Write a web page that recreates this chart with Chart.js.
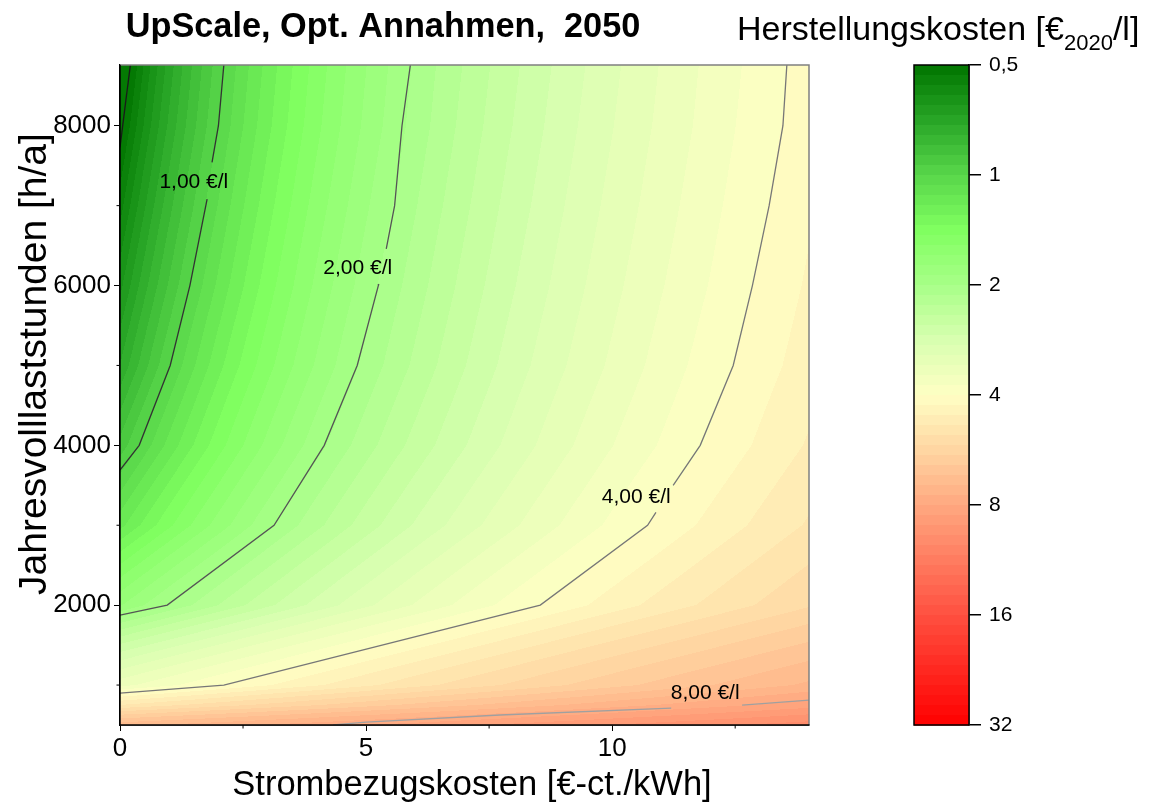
<!DOCTYPE html>
<html>
<head>
<meta charset="utf-8">
<script src="https://cdn.jsdelivr.net/npm/chart.js@4.4.0/dist/chart.umd.min.js"></script>
<style>
  html, body { margin: 0; padding: 0; background: #fff; }
  #wrap { position: relative; width: 1154px; height: 807px; }
  #main { position: absolute; left: 0; top: 0; }
  #bar { position: absolute; left: 720px; top: 0; }
</style>
</head>
<body>
<div id="wrap">
  <canvas id="main" width="820" height="807"></canvas>
  <canvas id="bar" width="434" height="807"></canvas>
</div>
<script>
// grid of production cost (€/l)
const priceCols = [0, 2, 4, 6, 8, 10, 12, 14];   // €-ct./kWh
const hourRows = [500, 750, 1000, 2000, 3000, 4000, 5000, 6000, 7000, 8000, 8760]; // h/a
const costGrid = [
  [6.90, 7.34, 7.78, 8.22, 8.66, 9.10, 9.54, 9.98],  // 500
  [4.84, 5.33, 5.82, 6.32, 6.81, 7.30, 7.79, 8.28],  // 750
  [3.44, 3.97, 4.50, 5.03, 5.55, 6.08, 6.61, 7.14],  // 1000
  [1.75, 2.27, 2.80, 3.33, 3.86, 4.39, 4.91, 5.44],  // 2000
  [1.18, 1.70, 2.23, 2.76, 3.28, 3.81, 4.34, 4.87],  // 3000
  [0.90, 1.42, 1.95, 2.47, 2.99, 3.52, 4.04, 4.57],  // 4000
  [0.73, 1.26, 1.78, 2.30, 2.83, 3.35, 3.88, 4.40],  // 5000
  [0.63, 1.15, 1.68, 2.20, 2.73, 3.25, 3.77, 4.30],  // 6000
  [0.55, 1.07, 1.60, 2.12, 2.65, 3.17, 3.69, 4.22],  // 7000
  [0.48, 1.00, 1.53, 2.05, 2.58, 3.10, 3.62, 4.15],  // 8000
  [0.44, 0.97, 1.50, 2.02, 2.54, 3.06, 3.59, 4.11]   // 8760
];

// contour lines (y null = gap for the label)
const line050 = [{x: 0.21, y: 8760}, {x: 0, y: 7730}];
const line100 = [{x: 2.11, y: 8760}, {x: 2.0, y: 8000}, {x: 1.87, y: 7540}, {x: 1.8, y: null},
  {x: 1.77, y: 7080}, {x: 1.42, y: 6000}, {x: 1.02, y: 5000}, {x: 0.39, y: 4000}, {x: 0, y: 3690}];
const line200 = [{x: 5.9, y: 8760}, {x: 5.73, y: 8000}, {x: 5.58, y: 7000}, {x: 5.41, y: 6460}, {x: 5.3, y: null},
  {x: 5.26, y: 6020}, {x: 5.25, y: 6000}, {x: 4.82, y: 5000}, {x: 4.15, y: 4000}, {x: 3.13, y: 3000},
  {x: 0.96, y: 2000}, {x: 0, y: 1875}];
const line400 = [{x: 13.55, y: 8760}, {x: 13.47, y: 8000}, {x: 13.19, y: 7000}, {x: 12.85, y: 6000},
  {x: 12.46, y: 5000}, {x: 11.79, y: 4000}, {x: 11.24, y: 3500}, {x: 11.0, y: null}, {x: 10.89, y: 3160},
  {x: 10.72, y: 3000}, {x: 8.54, y: 2000}, {x: 2.11, y: 1000}, {x: 0, y: 900}];
const line800 = [{x: 4.33, y: 500}, {x: 5.0, y: 537}, {x: 7.72, y: 625}, {x: 11.2, y: 710}, {x: 12.0, y: null},
  {x: 12.64, y: 750}, {x: 14, y: 812}];

const contourLabels = ['1,00 €/l', '2,00 €/l', '4,00 €/l', '8,00 €/l'];
const labelSpots = [[1.5, 7225], [4.83, 6150], [10.49, 3275], [11.89, 825]];

const xTicks = [0, 5, 10];
const xMinor = [2.5, 7.5, 12.5];
const yTicks = [2000, 4000, 6000, 8000];
const yMinor = [1000, 3000, 5000, 7000];
const barTicks = [0.5, 1, 2, 4, 8, 16, 32];

const FONT = '"Liberation Sans", Arial, sans-serif';
Chart.defaults.font.family = FONT;
Chart.defaults.color = '#000';

// colour map along log2(cost/0.5), 0..6
const stops = [
  [0, [0, 117, 0]], [0.5, [40, 165, 38]], [1, [88, 214, 74]], [1.5, [128, 255, 96]],
  [2, [168, 255, 136]], [2.5, [216, 255, 176]], [3, [255, 255, 196]], [3.5, [255, 214, 162]],
  [4, [255, 168, 128]], [5, [255, 80, 64]], [6, [255, 0, 0]]
];
const BANDS = 11;
function colorAt(t) {
  for (let i = 0; i < stops.length - 1; i++) {
    const [t0, c0] = stops[i], [t1, c1] = stops[i + 1];
    if (t <= t1) {
      const f = (t - t0) / (t1 - t0);
      return c0.map((v, k) => Math.round(v + (c1[k] - v) * f));
    }
  }
  return stops[stops.length - 1][1];
}
const bandCols = [];
for (let k = 0; k < 6 * BANDS; k++) bandCols.push(colorAt((k + 0.5) / BANDS));
function bandOf(c) {
  let k = Math.floor(Math.log2(c / 0.5) * BANDS);
  return Math.max(0, Math.min(6 * BANDS - 1, k));
}

function costAt(p, h) {
  let i = 0; while (i < priceCols.length - 2 && p > priceCols[i + 1]) i++;
  let j = 0; while (j < hourRows.length - 2 && h > hourRows[j + 1]) j++;
  const fx = (p - priceCols[i]) / (priceCols[i + 1] - priceCols[i]);
  const fy = (h - hourRows[j]) / (hourRows[j + 1] - hourRows[j]);
  const a = costGrid[j][i] * (1 - fx) + costGrid[j][i + 1] * fx;
  const b = costGrid[j + 1][i] * (1 - fx) + costGrid[j + 1][i + 1] * fx;
  return a * (1 - fy) + b * fy;
}

const fieldPlugin = {
  id: 'field',
  beforeDatasetsDraw(chart) {
    const {ctx, chartArea: a, scales: {x, y}} = chart;
    const L = Math.round(a.left), T = Math.round(a.top);
    const w = Math.round(a.right) - L, h = Math.round(a.bottom) - T;
    const img = ctx.createImageData(w, h);
    for (let py = 0; py < h; py++) {
      const hv = y.getValueForPixel(T + py + 0.5);
      for (let px = 0; px < w; px++) {
        const col = bandCols[bandOf(costAt(x.getValueForPixel(L + px + 0.5), hv))];
        const k = (py * w + px) * 4;
        img.data[k] = col[0]; img.data[k + 1] = col[1]; img.data[k + 2] = col[2]; img.data[k + 3] = 255;
      }
    }
    ctx.putImageData(img, L, T);
  },
  afterDatasetsDraw(chart) {
    const {ctx, scales: {x, y}} = chart;
    ctx.save();
    ctx.fillStyle = '#000';
    ctx.font = '21px ' + FONT;
    ctx.textAlign = 'center';
    ctx.textBaseline = 'alphabetic';
    contourLabels.forEach((s, i) => {
      ctx.fillText(s, x.getPixelForValue(labelSpots[i][0]), y.getPixelForValue(labelSpots[i][1]));
    });
    ctx.restore();
  },
  afterDraw(chart) {
    const {ctx, chartArea: a, scales: {x, y}} = chart;
    ctx.save();
    // frame
    ctx.strokeStyle = '#808080'; ctx.lineWidth = 1.5;
    ctx.beginPath();
    ctx.moveTo(a.left, a.top); ctx.lineTo(a.right, a.top); ctx.lineTo(a.right, a.bottom);
    ctx.stroke();
    ctx.strokeStyle = '#000';
    ctx.beginPath();
    ctx.moveTo(a.left, a.top); ctx.lineTo(a.left, a.bottom); ctx.lineTo(a.right, a.bottom);
    ctx.stroke();
    // minor ticks
    ctx.lineWidth = 1;
    ctx.beginPath();
    xMinor.forEach(v => { const p = x.getPixelForValue(v); ctx.moveTo(p, a.bottom); ctx.lineTo(p, a.bottom + 3.5); });
    yMinor.forEach(v => { const p = y.getPixelForValue(v); ctx.moveTo(a.left, p); ctx.lineTo(a.left - 3.5, p); });
    ctx.stroke();
    // titles
    ctx.fillStyle = '#000';
    ctx.textAlign = 'center';
    ctx.textBaseline = 'alphabetic';
    ctx.font = 'bold 34.3px ' + FONT;
    ctx.fillText('UpScale, Opt. Annahmen,  2050', 383, 37);
    ctx.font = '34.5px ' + FONT;
    ctx.fillText('Strombezugskosten [€-ct./kWh]', 472, 795);
    ctx.font = '39px ' + FONT;
    ctx.translate(46, 364);
    ctx.rotate(-Math.PI / 2);
    ctx.fillText('Jahresvolllaststunden [h/a]', 0, 0);
    ctx.restore();
  }
};

function lineSet(data, color) {
  return {data, showLine: true, borderColor: color, borderWidth: 1.3, pointRadius: 0,
    spanGaps: false, tension: 0, fill: false};
}

new Chart(document.getElementById('main'), {
  type: 'scatter',
  data: {
    datasets: [
      lineSet(line050, '#1a1a1a'),
      lineSet(line100, '#333333'),
      lineSet(line200, '#555555'),
      lineSet(line400, '#777777'),
      lineSet(line800, '#a0a0a0')
    ]
  },
  options: {
    responsive: false,
    animation: false,
    events: [],
    layout: {padding: {left: 0, top: 65, right: 11, bottom: 0}},
    plugins: {legend: {display: false}, tooltip: {enabled: false}, title: {display: false}},
    scales: {
      x: {
        type: 'linear', min: 0, max: 14,
        afterBuildTicks: s => { s.ticks = xTicks.map(v => ({value: v})); },
        afterFit: s => { s.height = 82; },
        grid: {display: true, drawOnChartArea: false, tickLength: 6, color: '#000', lineWidth: 1},
        border: {display: true, color: '#000', width: 1.5},
        ticks: {font: {size: 26}, padding: 2, maxRotation: 0, color: '#000'}
      },
      y: {
        type: 'linear', min: 500, max: 8760,
        afterBuildTicks: s => { s.ticks = yTicks.map(v => ({value: v})); },
        afterFit: s => { s.width = 120; },
        grid: {display: true, drawOnChartArea: false, tickLength: 6, color: '#000', lineWidth: 1},
        border: {display: true, color: '#000', width: 1.5},
        ticks: {font: {size: 26}, padding: 3, color: '#000', callback: v => String(v)}
      }
    }
  },
  plugins: [fieldPlugin]
});

// colour bar
const barPlugin = {
  id: 'bar',
  beforeDatasetsDraw(chart) {
    const {ctx, chartArea: a, scales: {y}} = chart;
    ctx.save();
    for (let k = 0; k < 6 * BANDS; k++) {
      const y0 = y.getPixelForValue(0.5 * Math.pow(2, k / BANDS));
      const y1 = y.getPixelForValue(0.5 * Math.pow(2, (k + 1) / BANDS));
      const c = bandCols[k];
      ctx.fillStyle = `rgb(${c[0]},${c[1]},${c[2]})`;
      ctx.fillRect(a.left, Math.min(y0, y1), a.right - a.left, Math.abs(y1 - y0) + 0.6);
    }
    ctx.strokeStyle = '#000'; ctx.lineWidth = 1.5;
    ctx.strokeRect(a.left, a.top, a.right - a.left, a.bottom - a.top);
    ctx.restore();
  },
  afterDraw(chart) {
    const {ctx} = chart;
    ctx.save();
    ctx.fillStyle = '#000';
    ctx.textBaseline = 'alphabetic';
    ctx.textAlign = 'left';
    let xp = 17;
    ctx.font = '34px ' + FONT;
    const s1 = 'Herstellungskosten [€';
    ctx.fillText(s1, xp, 40); xp += ctx.measureText(s1).width;
    ctx.font = '22px ' + FONT;
    ctx.fillText('2020', xp, 50); xp += ctx.measureText('2020').width;
    ctx.font = '34px ' + FONT;
    ctx.fillText('/l]', xp, 40);
    ctx.restore();
  }
};

new Chart(document.getElementById('bar'), {
  type: 'scatter',
  data: {datasets: []},
  options: {
    responsive: false,
    animation: false,
    events: [],
    layout: {padding: {left: 194, top: 65, right: 0, bottom: 82}},
    plugins: {legend: {display: false}, tooltip: {enabled: false}},
    scales: {
      x: {display: false, min: 0, max: 1},
      y: {
        type: 'logarithmic', position: 'right', min: 0.5, max: 32, reverse: true,
        afterBuildTicks: s => { s.ticks = barTicks.map(v => ({value: v})); },
        afterFit: s => { s.width = 185; },
        grid: {display: true, drawOnChartArea: false, tickLength: 12, color: '#000', lineWidth: 1.5},
        border: {display: true, color: '#000', width: 1.5},
        ticks: {font: {size: 21}, padding: 8, color: '#000', callback: v => String(v).replace('.', ',')}
      }
    }
  },
  plugins: [barPlugin]
});
</script>
</body>
</html>
